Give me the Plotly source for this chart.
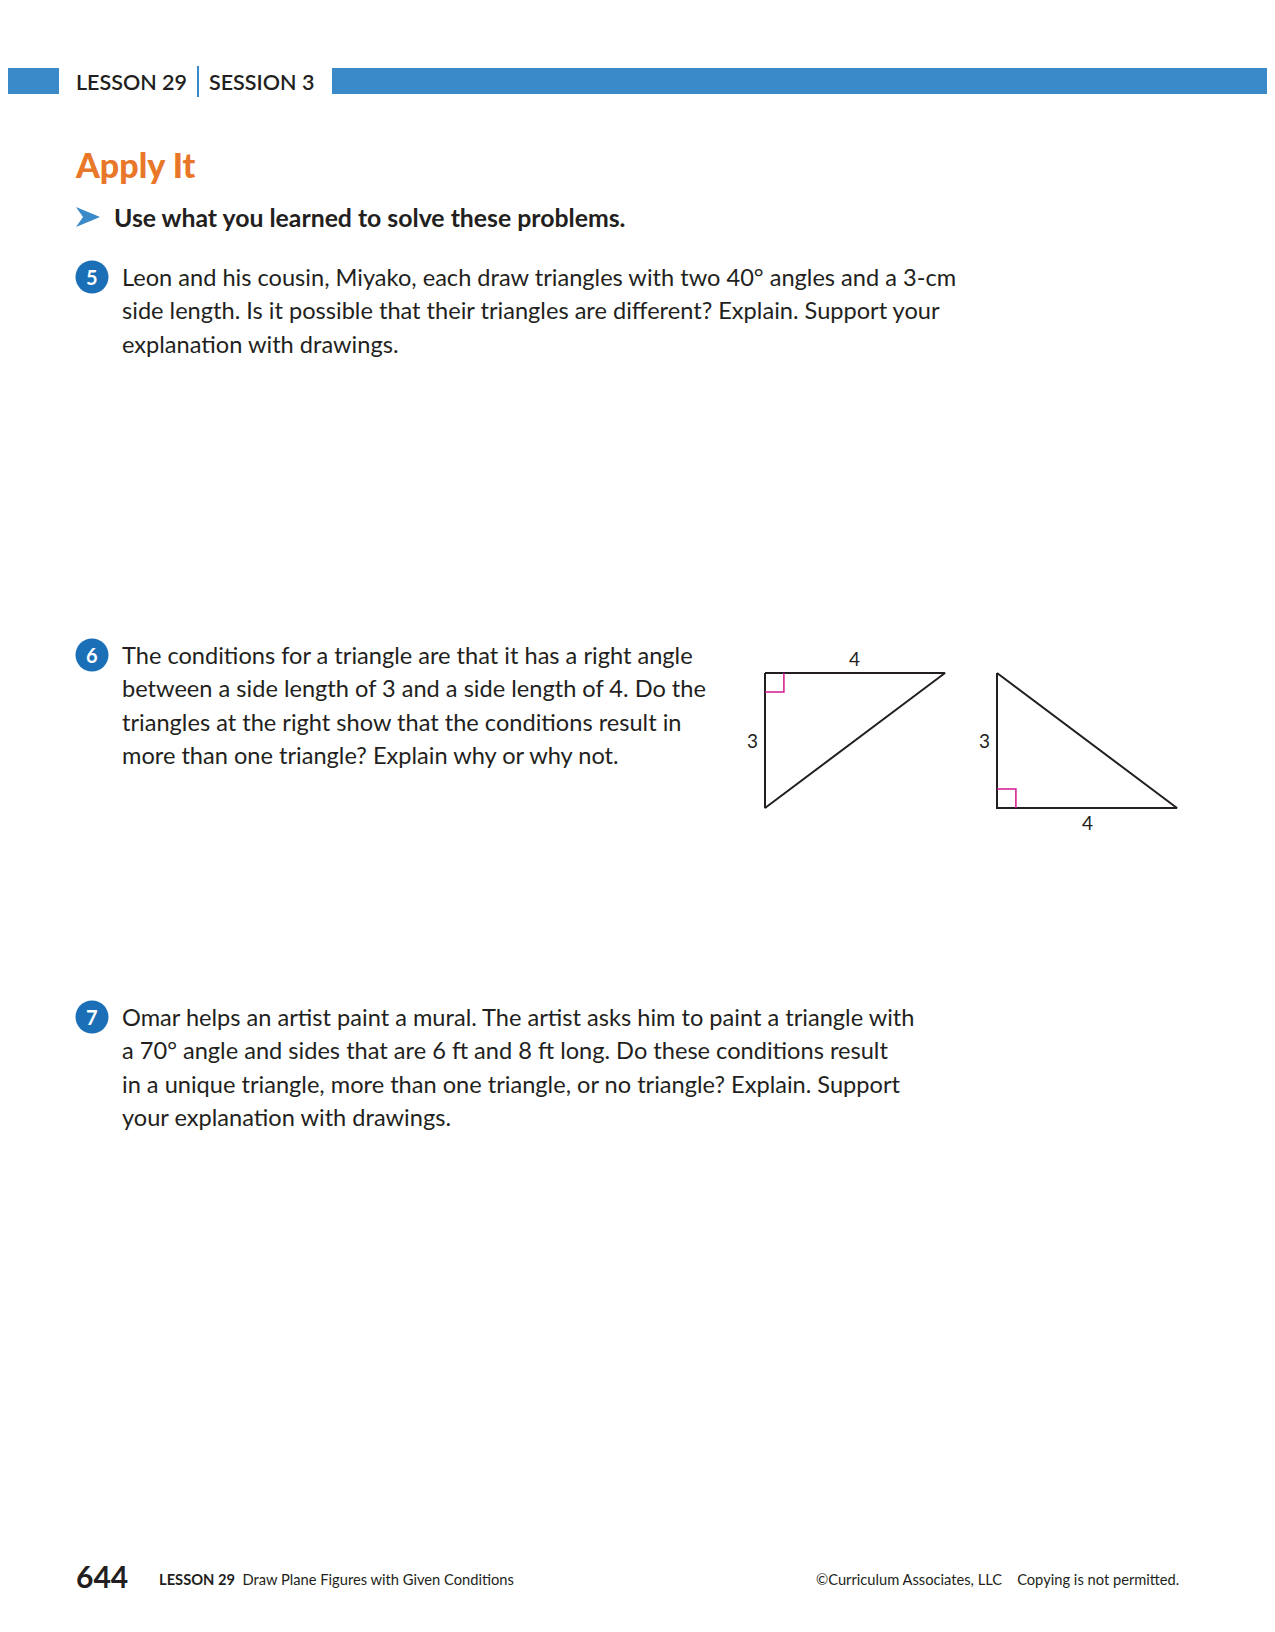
import plotly.graph_objects as go

W, H = 1275, 1632
# the page body has an 8px margin, so the figure is drawn smaller and
# its axes are mapped straight onto page pixels
OFF = 8

header_labels = ["LESSON 29", "SESSION 3"]
section_title = "Apply It"
instruction = "Use what you learned to solve these problems."

problem_numbers = ["5", "6", "7"]
problem_texts = [
    ["Leon and his cousin, Miyako, each draw triangles with two 40\u00b0 angles and a 3-cm",
     "side length. Is it possible that their triangles are different? Explain. Support your",
     "explanation with drawings."],
    ["The conditions for a triangle are that it has a right angle",
     "between a side length of 3 and a side length of 4. Do the",
     "triangles at the right show that the conditions result in",
     "more than one triangle? Explain why or why not."],
    ["Omar helps an artist paint a mural. The artist asks him to paint a triangle with",
     "a 70\u00b0 angle and sides that are 6 ft and 8 ft long. Do these conditions result",
     "in a unique triangle, more than one triangle, or no triangle? Explain. Support",
     "your explanation with drawings."],
]

# legs of the right triangles in problem 6
leg_horizontal = 4
leg_vertical = 3

page_number = "644"
footer_lesson = "LESSON 29"
footer_title = "Draw Plane Figures with Given Conditions"
footer_right = "\u00a9Curriculum Associates, LLC    Copying is not permitted."

BLUE_BAR = "#3a89c9"
BLUE_NUM = "#1a6fb7"
ORANGE = "#e8772a"
INK = "#231f20"
MAGENTA = "#d6168f"
TEXT_FONT = "Lato"

FIG_W = W - OFF
FIG_H = H - 2 * OFF

fig = go.Figure()
shapes = []
ann = []


def text(x, y, s, size, weight=400, color=INK, anchor="left", xref="x", yref="y", family=TEXT_FONT):
    ann.append(dict(x=x, y=y, xref=xref, yref=yref, text=s, showarrow=False,
                    xanchor=anchor, yanchor="middle",
                    font=dict(family=family, size=size, color=color, weight=weight)))


# header bar
shapes.append(dict(type="rect", x0=0, x1=59, y0=68, y1=94, fillcolor=BLUE_BAR, line_width=0, layer="below"))
shapes.append(dict(type="rect", x0=332, x1=W + 5, y0=68, y1=94, fillcolor=BLUE_BAR, line_width=0, layer="below"))
shapes.append(dict(type="line", x0=198, x1=198, y0=66, y1=97, line=dict(color=BLUE_BAR, width=2)))
text(74, 82, header_labels[0], 21.5, 600)
text(207, 82, header_labels[1], 21.5, 600)

# title and instruction
text(73, 164, section_title, 34, 900, ORANGE)
shapes.append(dict(type="path", path="M 76 207 L 100 217 L 76 227 L 83 217 Z",
                   fillcolor=BLUE_BAR, line_width=0))
text(112, 217, instruction, 24.8, 700)

# problems
problem_tops = [277, 655, 1017]
line_gap = 33.3
for num, lines, top in zip(problem_numbers, problem_texts, problem_tops):
    shapes.append(dict(type="circle", x0=75.5, x1=108.5, y0=top - 16.5, y1=top + 16.5,
                       fillcolor=BLUE_NUM, line_width=0))
    text(92, top, num, 20, 700, "white", anchor="center")
    for i, s in enumerate(lines):
        text(120, top + i * line_gap, s, 23.6)

# triangles for problem 6 (own axes, 45 px per unit)
px = 45.0
ax_left, ax_right, ax_top, ax_bot = 720, 1220, 640, 840
tri_x0 = (765 - ax_left) / px
tri2_x0 = (997 - ax_left) / px
base_y = 808
fig.update_layout(
    xaxis2=dict(domain=[(ax_left - OFF) / FIG_W, (ax_right - OFF) / FIG_W],
                range=[0, (ax_right - ax_left) / px],
                visible=False, anchor="y2", fixedrange=True),
    yaxis2=dict(domain=[1 - (ax_bot - OFF) / FIG_H, 1 - (ax_top - OFF) / FIG_H],
                range=[-(ax_bot - base_y) / px, (base_y - ax_top) / px],
                visible=False, anchor="x2", fixedrange=True),
)

a, b = leg_horizontal, leg_vertical
sq = 0.42
tri1_x = [tri_x0, tri_x0 + a, tri_x0, tri_x0]
tri1_y = [b, b, 0, b]
tri2_x = [tri2_x0, tri2_x0, tri2_x0 + a, tri2_x0]
tri2_y = [b, 0, 0, b]
for xs, ys in [(tri1_x, tri1_y), (tri2_x, tri2_y)]:
    fig.add_trace(go.Scatter(x=xs, y=ys, mode="lines", xaxis="x2", yaxis="y2",
                             line=dict(color=INK, width=2), hoverinfo="skip", showlegend=False))
# right angle marks
fig.add_trace(go.Scatter(x=[tri_x0, tri_x0 + sq, tri_x0 + sq], y=[b - sq, b - sq, b],
                         mode="lines", xaxis="x2", yaxis="y2",
                         line=dict(color=MAGENTA, width=1.5), hoverinfo="skip", showlegend=False))
fig.add_trace(go.Scatter(x=[tri2_x0, tri2_x0 + sq, tri2_x0 + sq], y=[sq, sq, 0],
                         mode="lines", xaxis="x2", yaxis="y2",
                         line=dict(color=MAGENTA, width=1.5), hoverinfo="skip", showlegend=False))
# side labels
text(tri_x0 + a / 2, b + 0.33, str(a), 19, xref="x2", yref="y2", anchor="center")
text(tri_x0 - 0.28, b / 2, str(b), 19, xref="x2", yref="y2", anchor="center")
text(tri2_x0 - 0.27, b / 2, str(b), 19, xref="x2", yref="y2", anchor="center")
text(tri2_x0 + a / 2, -0.33, str(a), 19, xref="x2", yref="y2", anchor="center")

# footer
text(74, 1576, page_number, 30, 700)
text(157, 1579, "<b>" + footer_lesson + "</b>&nbsp;&nbsp;" + footer_title, 14.7)
text(1181, 1579, footer_right.replace("    ", "&nbsp;&nbsp;&nbsp;&nbsp;"), 14.7, anchor="right")

fig.update_layout(
    width=FIG_W, height=FIG_H,
    margin=dict(l=0, r=0, t=0, b=0),
    paper_bgcolor="white", plot_bgcolor="white",
    xaxis=dict(range=[OFF, W], visible=False, fixedrange=True, domain=[0, 1]),
    yaxis=dict(range=[H - OFF, OFF], visible=False, fixedrange=True, domain=[0, 1]),
    shapes=shapes, annotations=ann, showlegend=False,
)
fig.write_html("out.html")
